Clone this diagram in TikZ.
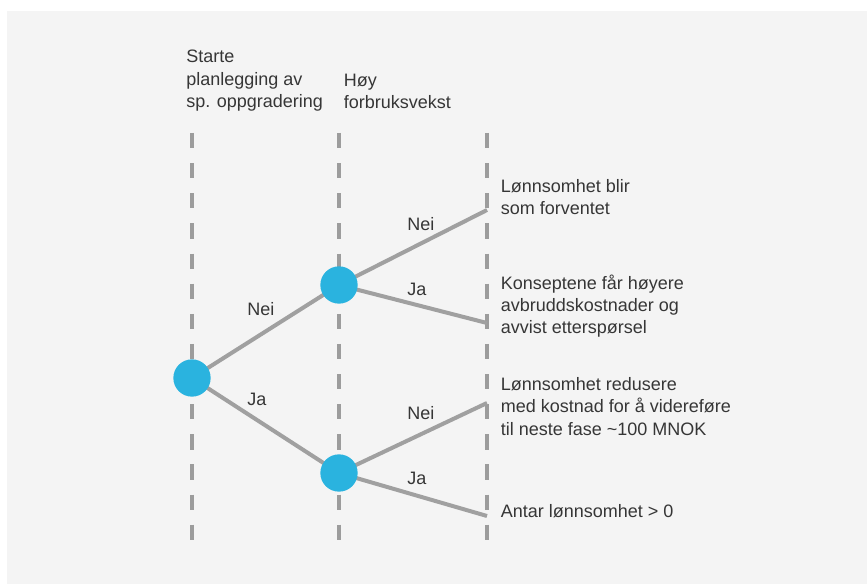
\documentclass[tikz,border=0pt]{standalone}
\usepackage{fontspec}
\setmainfont{Liberation Sans}
\definecolor{bgc}{HTML}{F4F4F4}
\definecolor{dashc}{HTML}{9C9C9C}
\definecolor{branchc}{HTML}{A0A0A0}
\definecolor{nodec}{HTML}{2AB3DF}
\definecolor{txtc}{HTML}{363636}
\begin{document}
\begin{tikzpicture}[x=0.75pt,y=-0.75pt,
  guide/.style={draw=dashc,line width=3.6pt,dash pattern=on 11.4pt off 11.2pt},
  branch/.style={draw=branchc,line width=3pt},
  chance/.style={circle,fill=nodec,minimum size=28pt,inner sep=0pt},
  lbl/.style={anchor=base west,inner sep=0pt,text=txtc,align=left,font=\fontsize{13.5}{16.8}\selectfont},
  ]
\useasboundingbox (0,0) rectangle (867,584);
\fill[bgc] (7,11) rectangle (867,584);
% dashed guides
\coordinate (g1t) at (192,133); \coordinate (g1b) at (192,542);
\coordinate (g2t) at (339,133); \coordinate (g2b) at (339,542);
\coordinate (g3t) at (487,133); \coordinate (g3b) at (487,542);
\draw[guide] (g1t) -- (g1b);
\draw[guide] (g2t) -- (g2b);
\draw[guide] (g3t) -- (g3b);
% nodes
\coordinate (c1) at (192,378);
\coordinate (c2) at (339,285);
\coordinate (c3) at (339,473);
\coordinate (e1) at (487,210);
\coordinate (e2) at (487,323);
\coordinate (e3) at (487,403);
\coordinate (e4) at (487,516);
\draw[branch] (c1) -- (c2);
\draw[branch] (c1) -- (c3);
\draw[branch] (c2) -- (e1);
\draw[branch] (c2) -- (e2);
\draw[branch] (c3) -- (e3);
\draw[branch] (c3) -- (e4);
\node[chance] (n1) at (c1) {};
\node[chance] (n2) at (c2) {};
\node[chance] (n3) at (c3) {};
% headers (anchor = baseline of last line)
\node[lbl] (h1) at (186,107.5) {Starte\\planlegging av\\sp. oppgradering};
\node[lbl] (h2) at (343.5,108.5) {Høy\\forbruksvekst};
% branch labels
\node[lbl] (l1) at (247,316) {Nei};
\node[lbl] (l2) at (247,406) {Ja};
\node[lbl] (l3) at (407,231) {Nei};
\node[lbl] (l4) at (407,296) {Ja};
\node[lbl] (l5) at (407,419) {Nei};
\node[lbl] (l6) at (407,484) {Ja};
% outcomes
\node[lbl] (o1) at (500.5,214.5) {Lønnsomhet blir\\som forventet};
\node[lbl] (o2) at (500.5,334) {Konseptene får høyere\\avbruddskostnader og\\avvist etterspørsel};
\node[lbl] (o3) at (500.5,435) {Lønnsomhet redusere\\med kostnad for å videreføre\\til neste fase \textasciitilde100 MNOK};
\node[lbl] (o4) at (500.5,517) {Antar lønnsomhet > 0};
\end{tikzpicture}
\end{document}
